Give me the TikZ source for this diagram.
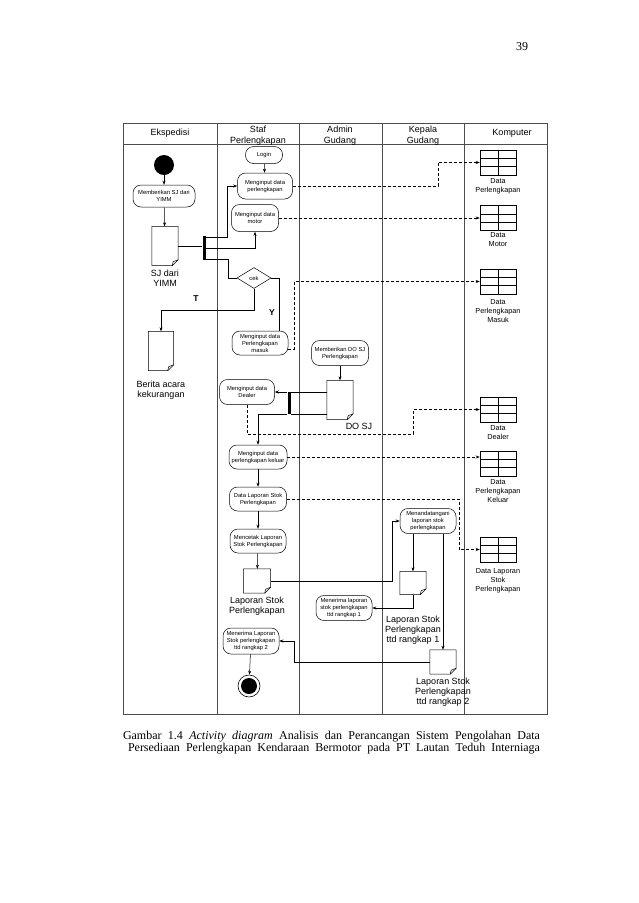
\documentclass[tikz,border=0pt]{standalone}
\usepackage{fontspec}
\setmainfont{Liberation Serif}
\setsansfont{Liberation Sans}
\usetikzlibrary{arrows.meta,shapes,calc,positioning}

\newcommand{\docfold}[1]{
	\draw [doc] (#1.north west) -- (#1.north east) -- ([yshift=6pt]#1.south east) -- ([xshift=-6pt]#1.south east) -- (#1.south west) -- cycle;
	\draw [doc] ([yshift=6pt]#1.south east) -- ([xshift=-5pt,yshift=4pt]#1.south east) -- ([xshift=-6pt]#1.south east);
}

\begin{document}
\begin{tikzpicture}[x=1pt, y=-1pt, >={Stealth[length=4pt,width=3pt]},
		lane/.style={line width=0.6pt, black!70},
		flow/.style={line width=0.5pt},
		data/.style={line width=0.5pt, dashed, dash pattern=on 3pt off 2pt},
		doc/.style={line width=0.5pt, line join=round},
		head/.style={font=\sffamily\fontsize{9}{11.5}\selectfont, align=center, inner sep=0pt},
		act/.style={draw, line width=0.5pt, rounded corners=8pt, align=center, inner sep=0pt, font=\sffamily\fontsize{5.8}{7}\selectfont},
		docnode/.style={inner sep=0pt, minimum width=26pt, minimum height=39pt},
		doclabel/.style={font=\sffamily\fontsize{9}{10}\selectfont, align=center, inner sep=0pt},
		table/.style={draw, line width=0.5pt, inner sep=0pt, minimum width=36pt, minimum height=25pt,
			path picture={
				\draw (path picture bounding box.north) -- (path picture bounding box.south);
				\draw ($(path picture bounding box.north west)!0.333!(path picture bounding box.south west)$) -- ($(path picture bounding box.north east)!0.333!(path picture bounding box.south east)$);
				\draw ($(path picture bounding box.north west)!0.667!(path picture bounding box.south west)$) -- ($(path picture bounding box.north east)!0.667!(path picture bounding box.south east)$);
			}},
		tablabel/.style={font=\sffamily\fontsize{7.3}{9}\selectfont, align=center, inner sep=0pt},
		bar/.style={fill=black, inner sep=0pt, minimum width=3pt},
		guard/.style={font=\sffamily\bfseries\fontsize{8.5}{10}\selectfont, inner sep=0pt},
		capt/.style={font=\rmfamily\fontsize{12}{13}\selectfont, inner sep=0pt}]
	\useasboundingbox (0,0) rectangle (638,903);
	\node [capt] (page) at (522,47) {39};
	\draw [lane] (123,123) rectangle (547,714);
	\draw [lane] (123,144) -- (547,144);
	\foreach \xl in {217,299,382,464}
		\draw [lane] (\xl,123) -- (\xl,714);
	\node [head] (hEks) at (170,133) {Ekspedisi};
	\node [head] (hStaf) at (258,135.5) {Staf\\Perlengkapan};
	\node [head] (hAdm) at (340,135.5) {Admin\\Gudang};
	\node [head] (hKep) at (423,135.5) {Kepala\\Gudang};
	\node [head] (hKom) at (512,133) {Komputer};

	\node [circle, fill=black, minimum size=20pt, inner sep=0pt] (start) at (164,165) {};
	\node [act, minimum width=62pt, minimum height=22pt] (a1) at (164,196) {Memberikan SJ dari\\YIMM};
	\node [docnode] (d1) at (165,246) {};
	\node [doclabel, below=4pt of d1] (ld1) {SJ dari\\YIMM};
	\node [bar, minimum height=24pt] (bar1) at (204,248) {};
	\node [act, minimum width=37pt, minimum height=17pt] (a2) at (264,155) {Login};
	\node [act, minimum width=55pt, minimum height=26pt] (a3) at (265,186) {Menginput data\\perlengkapan};
	\node [act, minimum width=47pt, minimum height=27pt] (a4) at (255,218) {Menginput data\\motor};
	\node [diamond, draw, line width=0.5pt, inner sep=0pt, minimum width=34pt, minimum height=21pt, font=\sffamily\fontsize{5.8}{7}\selectfont] (dec) at (254,278) {cek};
	\node [docnode, minimum width=25pt] (d2) at (161,351) {};
	\node [doclabel, below=10pt of d2] (ld2) {Berita acara\\kekurangan};
	\node [act, minimum width=56pt, minimum height=24pt] (a5) at (260,343) {Menginput data\\Perlengkapan\\masuk};
	\node [act, minimum width=57pt, minimum height=25pt] (a6) at (340,353) {Memberikan DO SJ\\Perlengkapan};
	\node [docnode] (d3) at (340,400) {};
	\node [doclabel] (ld3) at (359,426) {DO SJ};
	\node [bar, minimum height=22pt] (bar2) at (289,403) {};
	\node [act, minimum width=55pt, minimum height=25pt] (a7) at (247,392) {Menginput data\\Dealer};
	\node [act, minimum width=58pt, minimum height=24pt] (a8) at (258,457) {Menginput data\\perlengkapan keluar};
	\node [act, minimum width=57pt, minimum height=24pt] (a9) at (258,499) {Data Laporan Stok\\Perlengkapan};
	\node [act, minimum width=56pt, minimum height=24pt] (a10) at (258,541) {Mencetak Laporan\\Stok Perlengkapan};
	\node [docnode, minimum width=27pt, minimum height=24pt] (d4) at (257,581) {};
	\node [doclabel, below=4pt of d4] (ld4) {Laporan Stok\\Perlengkapan};
	\node [act, minimum width=56pt, minimum height=25pt] (a11) at (428,521) {Menandatangani\\laporan stok\\perlengkapan};
	\node [docnode, minimum height=23pt] (d5) at (413,583) {};
	\node [doclabel, below=21pt of d5] (ld5) {Laporan Stok\\Perlengkapan\\ttd rangkap 1};
	\node [act, minimum width=56pt, minimum height=25pt] (a12) at (344,608) {Menerima laporan\\stok perlengkapan\\ttd rangkap 1};
	\node [docnode, minimum height=24pt] (d6) at (443,662) {};
	\node [doclabel, below=4pt of d6] (ld6) {Laporan Stok\\Perlengkapan\\ttd rangkap 2};
	\node [act, minimum width=56pt, minimum height=26pt] (a13) at (251,641) {Menerima Laporan\\Stok perlengkapan\\ttd rangkap 2};
	\node [circle, draw, line width=0.6pt, minimum size=22pt, inner sep=0pt, path picture={\fill (path picture bounding box.center) circle (8pt);}] (stop) at (249,686) {};

	\node [table] (t1) at (498,162.5) {};
	\node [tablabel, below=3pt of t1] (lt1) {Data\\Perlengkapan};
	\node [table] (t2) at (498,218) {};
	\node [tablabel, below=2pt of t2] (lt2) {Data\\Motor};
	\node [table] (t3) at (498,281.5) {};
	\node [tablabel, below=5pt of t3] (lt3) {Data\\Perlengkapan\\Masuk};
	\node [table] (t4) at (498,409.5) {};
	\node [tablabel, below=3pt of t4] (lt4) {Data\\Dealer};
	\node [table] (t5) at (498,463.5) {};
	\node [tablabel, below=3pt of t5] (lt5) {Data\\Perlengkapan\\Keluar};
	\node [table] (t6) at (498,549.5) {};
	\node [tablabel, below=6pt of t6] (lt6) {Data Laporan\\Stok\\Perlengkapan};

	\docfold{d1}
	\docfold{d2}
	\docfold{d3}
	\docfold{d4}
	\docfold{d5}
	\docfold{d6}

	\draw [flow, ->] (start) -- (a1);
	\draw [flow, ->] (a1) -- (d1);
	\draw [flow] (d1.east) -- (d1.east -| bar1.west);
	\draw [flow, ->] ([yshift=-1pt]bar1.north east) -- ++(22,0) |- (a3.west);
	\draw [flow, ->] (bar1.east) -| (a4.south);
	\draw [flow] ([yshift=1pt]bar1.south east) -- ++(23,0) |- (dec.west);
	\draw [flow, ->] (a2) -- (a3);
	\draw [flow, ->] (dec.south) -- ++(0,21) -| (d2.north);
	\node [guard] (gT) at (196,299) {T};
	\draw [flow] (dec.east) -- ++(8,0) coordinate (yturn) -- (yturn |- a5.north);
	\node [guard] (gY) at (272,313) {Y};
	\draw [data, ->] (a3.east) -- ++(145,0) |- (t1.west);
	\draw [data, ->] (a4.east) -- (t2.west);
	\draw [data, ->] ([yshift=-6pt]a5.east) -- ++(6,0) |- (t3.west);
	\draw [flow, ->] (a6) -- (d3);
	\draw [flow] (bar2.north east) -- (bar2.north east -| d3.west);
	\draw [flow] (bar2.south east) -- (bar2.south east -| d3.west);
	\draw [flow, ->] (a7.east -| bar2.west) -- (a7.east);
	\draw [flow, ->] (bar2.south west) -| (a8.north);
	\draw [data, ->] (a7.south) -- ++(0,29) -- ++(166,0) |- (t4.west);
	\draw [data, ->] (a8.east) -- (a8.east -| t5.west);
	\draw [flow, ->] (a8) -- (a9);
	\draw [flow, ->] (a9) -- (a10);
	\draw [flow, ->] (a10) -- (d4);
	\draw [data, ->] (a9.east) -- ++(172,0) |- (t6.west);
	\draw [flow, ->] (d4.east) -- ++(122,0) |- (a11.west);
	\draw [flow, ->] (d5.north |- a11.south) -- (d5.north);
	\draw [flow, ->] (d5.south) |- (a12.east);
	\draw [flow, ->] (d6.north |- a11.south) -- (d6.north);
	\draw [flow, ->] (d6.west) -- ++(-136,0) |- (a13.east);
	\draw [flow, ->] (a13) -- (stop);

	\node [capt] (cap1) at (331.5,737) {\makebox[417pt][s]{Gambar 1.4 \textit{Activity diagram} Analisis dan Perancangan Sistem Pengolahan Data}};
	\node [capt] (cap2) at (334,749) {\makebox[412pt][s]{Persediaan Perlengkapan Kendaraan Bermotor pada PT Lautan Teduh Interniaga}};
\end{tikzpicture}
\end{document}
